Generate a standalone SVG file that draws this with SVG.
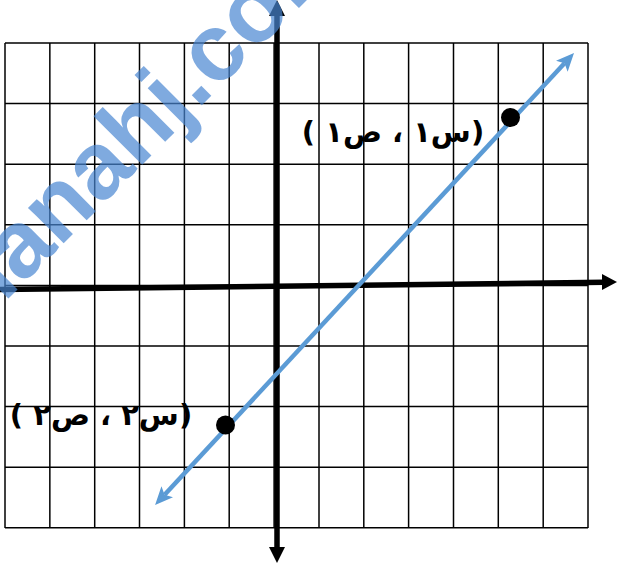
<svg xmlns="http://www.w3.org/2000/svg" width="617" height="565" viewBox="0 0 617 565">
<style>
.grid line{stroke:#000;stroke-width:1.5}
.axis{stroke:#000;fill:none}
.lbl{font-family:"DejaVu Sans","Liberation Sans",sans-serif;font-weight:bold;font-size:29px;fill:#000}
.dot{fill:#000}
.wm{font-family:"Liberation Sans",Arial,sans-serif;font-weight:bold;font-size:95px;fill:#4886D1;fill-opacity:0.7}
</style>
<defs>
<marker id="ah" markerUnits="userSpaceOnUse" markerWidth="20" markerHeight="18" refX="4" refY="8" orient="auto-start-reverse" viewBox="0 0 20 16">
<path d="M0,0 L18,8 L0,16 L4,8 z" fill="#5B9BD5"/>
</marker>
</defs>
<rect width="617" height="565" fill="#fff"/>
<g id="grid" class="grid">
<line x1="5" y1="43" x2="5" y2="528"/>
<line x1="49.85" y1="43" x2="49.85" y2="528"/>
<line x1="94.7" y1="43" x2="94.7" y2="528"/>
<line x1="139.5" y1="43" x2="139.5" y2="528"/>
<line x1="184.4" y1="43" x2="184.4" y2="528"/>
<line x1="229.2" y1="43" x2="229.2" y2="528"/>
<line x1="274.1" y1="43" x2="274.1" y2="528"/>
<line x1="319" y1="43" x2="319" y2="528"/>
<line x1="363.8" y1="43" x2="363.8" y2="528"/>
<line x1="408.6" y1="43" x2="408.6" y2="528"/>
<line x1="453.5" y1="43" x2="453.5" y2="528"/>
<line x1="498.3" y1="43" x2="498.3" y2="528"/>
<line x1="543.2" y1="43" x2="543.2" y2="528"/>
<line x1="588" y1="43" x2="588" y2="528"/>
<line x1="5" y1="43" x2="588" y2="43"/>
<line x1="5" y1="103.6" x2="588" y2="103.6"/>
<line x1="5" y1="164.2" x2="588" y2="164.2"/>
<line x1="5" y1="224.8" x2="588" y2="224.8"/>
<line x1="5" y1="285.4" x2="588" y2="285.4"/>
<line x1="5" y1="346" x2="588" y2="346"/>
<line x1="5" y1="406.6" x2="588" y2="406.6"/>
<line x1="5" y1="467.2" x2="588" y2="467.2"/>
<line x1="5" y1="527.8" x2="588" y2="527.8"/>
</g>
<g id="axes">
<line class="axis" x1="277" y1="14" x2="277" y2="548" stroke-width="5.5"/>
<polygon points="277,0 285,16 269,16" fill="#000"/>
<polygon points="277,563 285,547 269,547" fill="#000"/>
<line class="axis" x1="0" y1="289.5" x2="604" y2="282.3" stroke-width="5.5"/>
<polygon points="617,282 602,274 602,290" fill="#000"/>
</g>
<g id="connectors">
<line x1="164.6" y1="494.7" x2="564.5" y2="63.3" stroke="#5B9BD5" stroke-width="4.5" marker-start="url(#ah)" marker-end="url(#ah)"/>
</g>
<g id="point1">
<circle class="dot" cx="510.5" cy="117.5" r="9.5"/>
<text class="lbl" x="393" y="142" direction="rtl" text-anchor="middle">(س١ ، ص١ )</text>
</g>
<g id="point2">
<circle class="dot" cx="225.5" cy="425" r="9.5"/>
<text class="lbl" x="101" y="425" direction="rtl" text-anchor="middle">(س٢ ، ص٢ )</text>
</g>
<g id="watermark">
<text class="wm" x="-94" y="401" transform="rotate(-45 -94 401)">almanahj.com</text>
</g>
</svg>
